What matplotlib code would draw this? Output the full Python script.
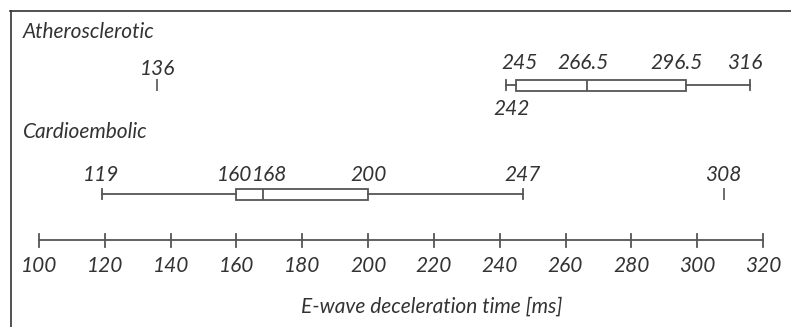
import matplotlib
matplotlib.use("Agg")
import matplotlib.pyplot as plt

# ---- data ----
groups = ["Atherosclerotic", "Cardioembolic"]
whisker_low = [242, 119]
q1 = [245, 160]
median = [266.5, 168]
q3 = [296.5, 200]
whisker_high = [316, 247]
outliers = [[136], [308]]
ticks = [100, 120, 140, 160, 180, 200, 220, 240, 260, 280, 300, 320]
xlabel = "E-wave deceleration time [ms]"

FONT = "Lato"
TXT = "#333333"
LINE = "#555555"
FS = 15

W, H = 791, 327
fig = plt.figure(figsize=(W / 100, H / 100), dpi=100)
ax = fig.add_axes([0, 0, 1, 1])
# pixel mapping: x=100 -> 39px, x=320 -> 763px
scale = (763 - 39) / (320 - 100)
ax.set_xlim(100 - 39 / scale, 100 + (W - 39) / scale)
ax.set_ylim(H, 0)
ax.axis("off")

rows = [85, 194]
stats = []
for i in range(len(groups)):
    stats.append(dict(med=median[i], q1=q1[i], q3=q3[i],
                      whislo=whisker_low[i], whishi=whisker_high[i],
                      fliers=outliers[i], label=groups[i]))
ax.bxp(stats, positions=rows, widths=11, vert=False, patch_artist=True,
       capwidths=10, showfliers=True,
       boxprops=dict(facecolor="white", edgecolor=LINE, linewidth=1.3),
       medianprops=dict(color=LINE, linewidth=1.3),
       whiskerprops=dict(color=LINE, linewidth=1.3),
       capprops=dict(color=LINE, linewidth=1.3),
       flierprops=dict(marker="|", markersize=8, markeredgecolor=LINE,
                       markeredgewidth=1.2, linestyle="none"),
       manage_ticks=False)

# group labels
for g, yy in zip(groups, [32, 132]):
    fig.text(23 / W, 1 - yy / H, g, fontsize=FS, family=FONT,
             style="italic", color=TXT, va="center", ha="left")

def lab(val, row, dx, dy, ha="center"):
    txt = ("%g" % val)
    ax.annotate(txt, xy=(val, row), xytext=(dx, dy), textcoords="offset pixels",
                fontsize=FS, family=FONT, style="italic", color=TXT,
                ha=ha, va="center")

# Atherosclerotic labels (row 0)
r = rows[0]
lab(q1[0], r, 3, 22)
lab(median[0], r, -4, 22)
lab(q3[0], r, -9, 22)
lab(whisker_high[0], r, -5, 22)
lab(whisker_low[0], r, 5, -24)
lab(outliers[0][0], r, 0, 16)

# Cardioembolic labels (row 1)
r = rows[1]
lab(whisker_low[1], r, 0, 19)
lab(q1[1], r, -2, 19)
lab(median[1], r, 7, 19)
lab(q3[1], r, 0, 19)
lab(whisker_high[1], r, 0, 19)
lab(outliers[1][0], r, 0, 19)

# axis line with ticks
axis_y = 240
ax.plot([ticks[0], ticks[-1]], [axis_y, axis_y], color=LINE, linewidth=1.3)
for t in ticks:
    ax.plot([t, t], [axis_y - 6, axis_y + 7], color=LINE, linewidth=1.3)
    ax.text(t, 266, str(t), fontsize=FS, family=FONT, style="italic",
            color=TXT, ha="center", va="center")

ax.text(ax.get_xlim()[0] + 432 / scale, 307, xlabel, fontsize=FS, family=FONT,
        style="italic", color=TXT, ha="center", va="center")

# frame lines (top and left)
fig.add_artist(plt.Line2D([10 / W, 1], [1 - 10.5 / H, 1 - 10.5 / H],
                          color="#333333", linewidth=1.2))
fig.add_artist(plt.Line2D([10.5 / W, 10.5 / W], [0, 1 - 10.5 / H],
                          color="#333333", linewidth=1.2))

fig.savefig("out.png", dpi=100, facecolor="white")
